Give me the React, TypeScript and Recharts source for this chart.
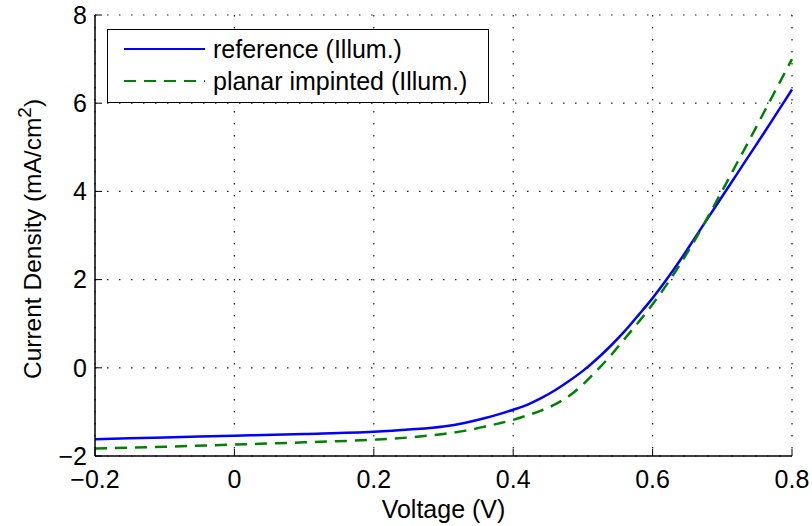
import React from "react";
import { LineChart, Line, XAxis, YAxis, CartesianGrid } from "recharts";

const voltage = [-0.2, -0.1, 0, 0.1, 0.2, 0.25, 0.3, 0.33, 0.36, 0.38, 0.4, 0.42, 0.44, 0.46, 0.48, 0.5, 0.52, 0.54, 0.56, 0.58, 0.6, 0.62, 0.64, 0.66, 0.68, 0.7, 0.72, 0.74, 0.76, 0.78, 0.8];
const reference = [-1.62, -1.58, -1.54, -1.5, -1.45, -1.4, -1.33, -1.25, -1.14, -1.05, -0.95, -0.84, -0.69, -0.51, -0.3, -0.07, 0.2, 0.5, 0.83, 1.2, 1.58, 2.0, 2.45, 2.93, 3.41, 3.89, 4.37, 4.85, 5.33, 5.82, 6.31];
const planar = [-1.83, -1.79, -1.74, -1.69, -1.63, -1.58, -1.5, -1.43, -1.33, -1.26, -1.18, -1.08, -0.97, -0.83, -0.64, -0.38, -0.06, 0.28, 0.66, 1.04, 1.44, 1.88, 2.36, 2.88, 3.44, 4.02, 4.61, 5.2, 5.8, 6.4, 7.0];
const xTicks = [-0.2, 0, 0.2, 0.4, 0.6, 0.8];
const yTicks = [-2, 0, 2, 4, 6, 8];
const seriesNames = ["reference (Illum.)", "planar impinted (Illum.)"];

const data = voltage.map((v, i) => ({ v, ref: reference[i], planar: planar[i] }));

const FONT = "'Liberation Sans', Arial, Helvetica, sans-serif";
const fmt = (t: number) => (t < 0 ? "\u2212" + String(Math.abs(t)) : String(t));

const YLabel = () => {
  const cx = 41;
  const cy = 239;
  return (
    <text x={cx} y={cy} transform={`rotate(-90, ${cx}, ${cy})`} textAnchor="middle" fontSize={24.5} fontFamily={FONT} fill="#000">
      <tspan>Current Density (mA/cm</tspan>
      <tspan dy={-10} fontSize={19}>2</tspan>
      <tspan dy={10}>)</tspan>
    </text>
  );
};

const LegendBox = () => (
  <div style={{ position: "absolute", left: 107, top: 29, width: 380, height: 72, border: "1.5px solid #000", background: "#fff" }}>
    <svg width={380} height={72} style={{ position: "absolute", left: 0, top: 0 }}>
      <line x1={16} x2={97} y1={19} y2={19} stroke="#0000ff" strokeWidth={2.2} />
      <line x1={16} x2={97} y1={51} y2={51} stroke="#008000" strokeWidth={2.2} strokeDasharray="12 8" />
      <text x={105} y={28} fontSize={25} fontFamily={FONT} fill="#000">{seriesNames[0]}</text>
      <text x={105} y={60} fontSize={25} fontFamily={FONT} fill="#000">{seriesNames[1]}</text>
    </svg>
  </div>
);

export default function App() {
  const tickStyle = { fontSize: 25, fontFamily: FONT, fill: "#000" };
  return (
    <div style={{ position: "absolute", left: 0, top: 0, width: 812, height: 526, background: "#fff" }}>
      <LineChart width={812} height={526} data={data} margin={{ top: 15, right: 20, bottom: 0, left: 0 }}>
        <CartesianGrid stroke="#222" strokeDasharray="1.5 10.5" strokeWidth={1.2} />
        <XAxis dataKey="v" type="number" domain={[-0.2, 0.8]} ticks={xTicks} tickFormatter={fmt} height={70}
          tick={tickStyle} tickSize={-7} tickMargin={21} axisLine={{ stroke: "#000", strokeWidth: 1.5 }} tickLine={{ stroke: "#000" }}
          label={{ value: "Voltage (V)", position: "insideBottom", offset: 8, style: { fontSize: 25, fontFamily: FONT, fill: "#000" } }} />
        <XAxis xAxisId="top" orientation="top" dataKey="v" type="number" domain={[-0.2, 0.8]} ticks={xTicks} height={0}
          tick={false} tickSize={-7} axisLine={{ stroke: "#000", strokeWidth: 1.5 }} tickLine={{ stroke: "#000" }} />
        <YAxis type="number" domain={[-2, 8]} ticks={yTicks} tickFormatter={fmt} width={95}
          tick={tickStyle} tickSize={-7} tickMargin={15} axisLine={{ stroke: "#000", strokeWidth: 1.5 }} tickLine={{ stroke: "#000" }}
          label={<YLabel />} />
        <YAxis yAxisId="right" orientation="right" type="number" domain={[-2, 8]} ticks={yTicks} width={0}
          tick={false} tickSize={-7} axisLine={{ stroke: "#000", strokeWidth: 1.5 }} tickLine={{ stroke: "#000" }} />
        <Line type="monotone" dataKey="ref" name={seriesNames[0]} stroke="#0000ff" strokeWidth={2.5} dot={false} isAnimationActive={false} />
        <Line type="monotone" dataKey="planar" name={seriesNames[1]} stroke="#008000" strokeWidth={2.5} strokeDasharray="12 8" dot={false} isAnimationActive={false} />
      </LineChart>
      <LegendBox />
    </div>
  );
}
